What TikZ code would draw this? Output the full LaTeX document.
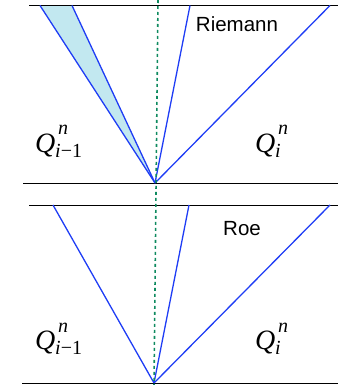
\documentclass[tikz,border=0pt]{standalone}
\usepackage{fontspec}
\setmainfont{Liberation Serif}
\setsansfont{Liberation Sans}
\definecolor{rayblue}{HTML}{1F3DF5}
\definecolor{fanfill}{HTML}{C2E8F0}
\definecolor{midgreen}{HTML}{0E8A5F}
\begin{document}
\begin{tikzpicture}[x=1pt,y=-1pt,
  axis/.style={black,line width=0.9pt},
  ray/.style={rayblue,line width=1.3pt},
  mid/.style={midgreen,line width=1.6pt,dash pattern=on 3pt off 3pt},
  lbl/.style={font=\sffamily\fontsize{20.5}{21}\selectfont,inner sep=0pt},
  bigq/.style={font=\itshape\fontsize{28}{28}\selectfont,inner sep=0pt,anchor=base west},
  scr/.style={font=\fontsize{20}{20}\selectfont,inner sep=0pt,anchor=base west}]
\useasboundingbox (0,0) rectangle (338,385);
% ---------- top panel (Riemann) ----------
\coordinate (A1) at (155,183);
\coordinate (T1a) at (40,5.5);
\coordinate (T1b) at (72,5.5);
\coordinate (T1c) at (190,5.5);
\coordinate (T1d) at (330,5.5);
\coordinate (L1s) at (29,5.5);
\coordinate (L1e) at (338,5.5);
\coordinate (B1s) at (23,183);
\coordinate (B1e) at (338,183);
\fill[fanfill] (A1) -- (T1a) -- (T1b) -- cycle;
\draw[axis] (L1s) -- (L1e);
\draw[axis] (B1s) -- (B1e);
\draw[ray] (A1) -- (T1a);
\draw[ray] (A1) -- (T1b);
\draw[ray] (A1) -- (T1c);
\draw[ray] (A1) -- (T1d);
\node[lbl] (riemann) at (237,24) {Riemann};
\node[bigq] (q1l) at (35,152) {Q};
\node[scr] (q1ln) at (58,135) {\itshape n};
\node[scr] (q1ls) at (55,157) {\itshape i\upshape −1};
\node[bigq] (q1r) at (255,152) {Q};
\node[scr] (q1rn) at (278,135) {\itshape n};
\node[scr] (q1rs) at (275,157) {\itshape i};
% ---------- bottom panel (Roe) ----------
\coordinate (A2) at (154,383);
\coordinate (T2a) at (53,205);
\coordinate (T2c) at (189,205);
\coordinate (T2d) at (330,205);
\coordinate (L2s) at (29,205);
\coordinate (L2e) at (338,205);
\coordinate (B2s) at (22,383);
\coordinate (B2e) at (338,383);
\draw[axis] (L2s) -- (L2e);
\draw[axis] (B2s) -- (B2e);
\draw[ray] (A2) -- (T2a);
\draw[ray] (A2) -- (T2c);
\draw[ray] (A2) -- (T2d);
\node[lbl] (roe) at (242,229) {Roe};
\node[bigq] (q2l) at (35,349) {Q};
\node[scr] (q2ln) at (58,332) {\itshape n};
\node[scr] (q2ls) at (55,354) {\itshape i\upshape −1};
\node[bigq] (q2r) at (255,349) {Q};
\node[scr] (q2rn) at (278,332) {\itshape n};
\node[scr] (q2rs) at (275,354) {\itshape i};
% ---------- interface line ----------
\coordinate (Gt) at (158,0);
\coordinate (Gb) at (154,385);
\draw[mid] (Gt) -- (Gb);
\end{tikzpicture}
\end{document}
